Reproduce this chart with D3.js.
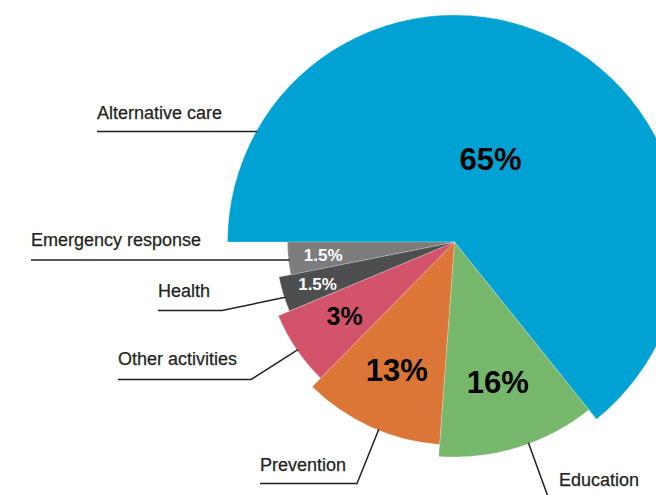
<!DOCTYPE html>
<html>
<head>
<meta charset="utf-8">
<script src="https://cdn.jsdelivr.net/npm/d3@7"></script>
<style>
  body { margin: 0; background: #fff; }
  text { font-family: "Liberation Sans", Arial, sans-serif; }
</style>
</head>
<body>
<div id="chart"></div>
<script>
// slices, clockwise from 9 o'clock
const categories = ["Alternative care", "Education", "Prevention", "Other activities", "Health", "Emergency response"];
// share of the circle each slice takes, as drawn
const shares = [64.25, 11.92, 11.19, 6.33, 3.17, 3.14];
const pctLabels = ["65%", "16%", "13%", "3%", "1.5%", "1.5%"];

const colors = ["#00a1d3", "#77b76c", "#db7637", "#d3536a", "#4d4e50", "#7c7c7c"];
const pctColor = ["#000", "#000", "#000", "#000", "#fff", "#fff"];
const pctSize = [31, 31, 31, 25, 17, 17];
const pctDist = [0.4, 0.68, 0.69, 0.695, 0.8, 0.79];

// leader lines: angle on the rim (deg), elbow, line end, text position
const leaders = [
  { a: -60.9, y: 131.5, ex: null, x0: 97, tx: 97, ty: 118.5 },
  { a: 159.8, y: 505, ex: 551, x0: 640, tx: 559, ty: 486 },
  { a: 202, y: 483.5, ex: 357, x0: 260, tx: 260, ty: 470.5 },
  { a: 235.5, y: 379.5, ex: 251, x0: 118, tx: 118, ty: 365 },
  { a: 251.9, y: 310.5, ex: 222, x0: 158, tx: 158, ty: 296.5 },
  { a: 263.8, y: 260, ex: null, x0: 31, tx: 31, ty: 246 }
];

const width = 656, height = 495;
const cx = 454.5, cy = 242;

const svg = d3.select("#chart").append("svg")
  .attr("width", width)
  .attr("height", height);

const radius = d3.scaleLinear().domain([0, categories.length - 1]).range([227, 167]);

const pie = d3.pie().sort(null)
  .startAngle(-Math.PI / 2)
  .endAngle(3 * Math.PI / 2);

const arcs = pie(shares);

const g = svg.append("g").attr("transform", `translate(${cx},${cy})`);

g.selectAll("path")
  .data(arcs)
  .join("path")
  .attr("fill", (d, i) => colors[i])
  .attr("stroke", "#fff")
  .attr("stroke-opacity", 0.4)
  .attr("stroke-width", 0.6)
  .attr("d", (d, i) => d3.arc().innerRadius(0).outerRadius(radius(i))(d));

// percent labels
g.selectAll("text.pct")
  .data(arcs)
  .join("text")
  .attr("class", "pct")
  .attr("transform", (d, i) => {
    let m = (d.startAngle + d.endAngle) / 2;
    if (i == 0) m -= 0.04; // big slice label sits a bit left of mid
    const r = radius(i) * pctDist[i];
    return `translate(${Math.sin(m) * r},${-Math.cos(m) * r})`;
  })
  .attr("dy", "0.36em")
  .attr("text-anchor", "middle")
  .attr("font-weight", "bold")
  .attr("font-size", (d, i) => pctSize[i])
  .attr("fill", (d, i) => pctColor[i])
  .text((d, i) => pctLabels[i]);

// leader lines + category names
const line = d3.line();
leaders.forEach((l, i) => {
  const a = l.a * Math.PI / 180, r = radius(i) - 1;
  const p = [cx + Math.sin(a) * r, cy - Math.cos(a) * r];
  const pts = l.ex == null
    ? [[l.x0, l.y], [p[0], l.y]]
    : [[l.x0, l.y], [l.ex, l.y], p];
  svg.append("path")
    .attr("d", line(pts))
    .attr("fill", "none")
    .attr("stroke", "#231f20")
    .attr("stroke-width", 1.5);
  svg.append("text")
    .attr("x", l.tx)
    .attr("y", l.ty)
    .attr("font-size", 18)
    .attr("fill", "#231f20")
    .attr("stroke", "#231f20")
    .attr("stroke-width", 0.25)
    .text(categories[i]);
});
</script>
</body>
</html>
